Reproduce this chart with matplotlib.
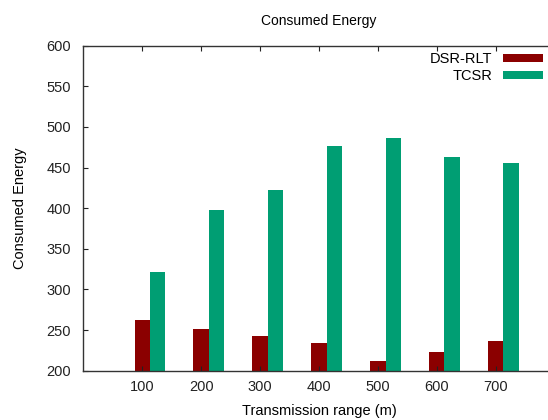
import matplotlib.pyplot as plt
import numpy as np

plt.rcParams["font.family"] = ["Liberation Sans", "DejaVu Sans"]

ranges = [100, 200, 300, 400, 500, 600, 700]
dsr_rlt = [262, 251, 243, 234, 212, 223, 236]
tcsr = [321, 398, 422, 477, 486, 463, 455]

x = np.array(ranges)
w = 26

fig = plt.figure(figsize=(5.48, 4.2), dpi=100)
# gnuplot style: plot area runs slightly past the right edge of the image
ax = fig.add_axes([0.152, 0.1174, 0.86, 0.774])

ax.bar(x, dsr_rlt, width=w, color="#8b0000", label="DSR-RLT")
ax.bar(x + w, tcsr, width=w, color="#009e73", label="TCSR")

ax.set_xlim(0, 800)
ax.set_ylim(200, 600)
ax.set_xticks(ranges)
ax.set_yticks(np.arange(200, 601, 50))
ax.tick_params(direction="in", length=3.5, top=True, right=False,
               labelsize=10.5, colors="#222222", pad=7)
ax.tick_params(axis="y", pad=9)

for s in ax.spines.values():
    s.set_color("#333333")
    s.set_linewidth(1.0)
ax.spines["right"].set_visible(False)

ax.set_title("Consumed Energy", fontsize=10, pad=15)
ax.set_xlabel("Transmission range (m)", fontsize=10.5, labelpad=7)
ax.set_ylabel("Consumed Energy", fontsize=10.5, labelpad=14)

ax.legend(loc="upper right", bbox_to_anchor=(0.989, 1.0), frameon=False,
          markerfirst=False, fontsize=10.5, handlelength=2.75, handleheight=0.55,
          labelspacing=0.2, handletextpad=0.7, borderaxespad=0.05)

fig.savefig("out.png", dpi=100)
